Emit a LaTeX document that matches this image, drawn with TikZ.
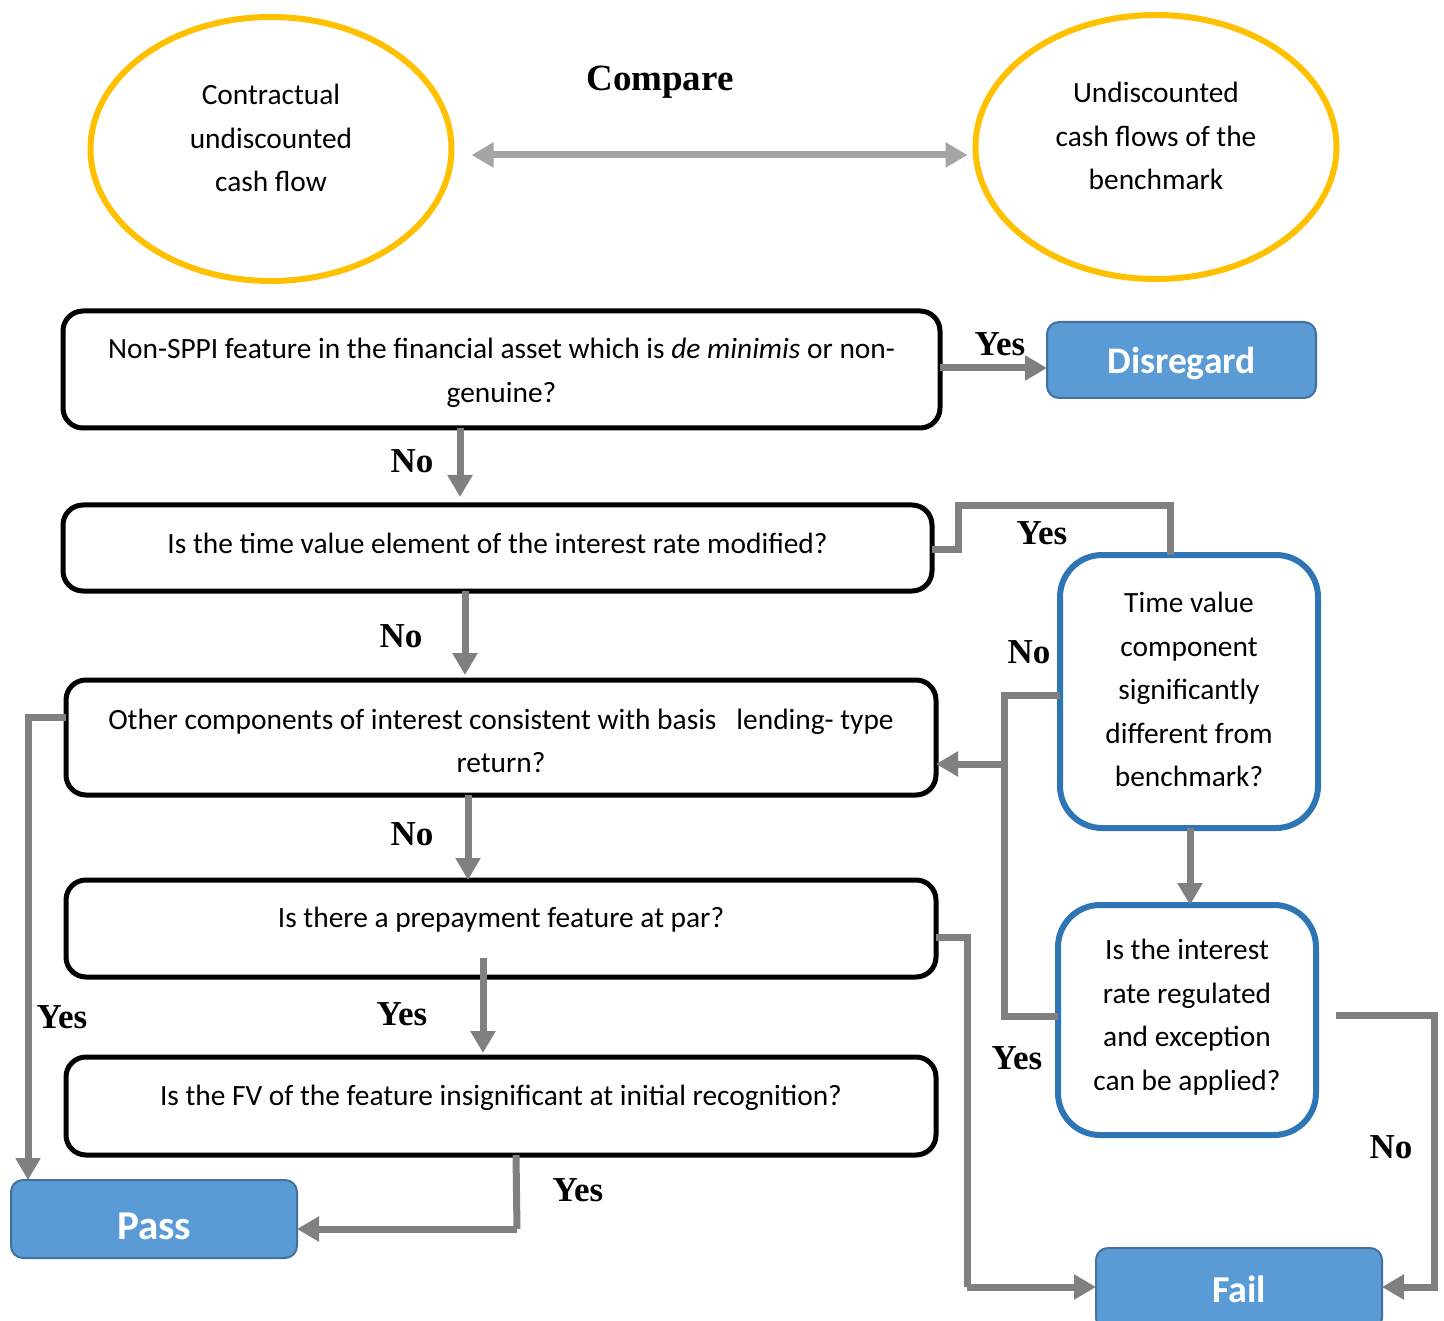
\documentclass[tikz,border=0pt]{standalone}
\usepackage{fontspec}
\setmainfont{Carlito}
\newfontfamily\lblfont{Liberation Serif}
\usetikzlibrary{shapes.geometric,arrows.meta}
\definecolor{gold}{HTML}{FFC000}
\definecolor{tvblue}{HTML}{2E75B6}
\definecolor{resfill}{HTML}{5B9BD5}
\definecolor{resdraw}{HTML}{41719C}
\definecolor{conngray}{HTML}{808080}
\definecolor{cmpgray}{HTML}{A5A5A5}
\begin{document}
\begin{tikzpicture}[x=1pt,y=-1pt,
  every node/.style={inner sep=0pt,outer sep=0pt},
  body/.style={font=\fontsize{29.4}{43.5}\selectfont,align=center},
  oval/.style={ellipse,draw=gold,line width=6pt,minimum width=361pt,minimum height=264pt},
  qbox/.style={draw=black,line width=5pt,rounded corners=20pt},
  bluebox/.style={draw=tvblue,line width=6pt,rounded corners=42pt},
  result/.style={fill=resfill,draw=resdraw,line width=2pt,rounded corners=12pt},
  restext/.style={text=white,font=\bfseries\fontsize{#1}{40}\selectfont},
  conn/.style={draw=conngray,line width=7pt},
  arr/.style={conn,-{Triangle[length=22pt,width=24pt]}},
  lbl/.style={font=\lblfont\bfseries\fontsize{35}{40}\selectfont}]
\useasboundingbox (0,0) rectangle (1444,1321);

% top ellipses
\node[oval] (e1) at (271,149) {};
\node[body] (e1t) at (271,138) {Contractual\\undiscounted\\cash flow};
\node[oval] (e2) at (1156,147) {};
\node[body] (e2t) at (1156,136) {Undiscounted\\cash flows of the\\benchmark};
\node[font=\lblfont\bfseries\fontsize{37}{40}\selectfont] (cmp) at (660,82) {Compare};
\draw[draw=cmpgray,line width=7pt,{Triangle[length=22pt,width=24pt]}-{Triangle[length=22pt,width=24pt]}]
  ([xshift=20pt,yshift=-6pt]e1.east) -- ([xshift=-8pt]e2.west |- 0,155);

% question boxes
\node[qbox,minimum width=877pt,minimum height=117pt] (b1) at (501.5,369.5) {};
\node[body] (b1t) at (501.5,373) {Non-SPPI feature in the financial asset which is \textit{de minimis} or non-\\genuine?};
\node[qbox,minimum width=869pt,minimum height=86pt] (b2) at (497.5,548) {};
\node[body] (b2t) at (497.5,543) {Is the time value element of the interest rate modified?};
\node[qbox,minimum width=870pt,minimum height=115pt] (b3) at (501,737.5) {};
\node[body] (b3t) at (501,741) {Other components of interest consistent with basis\ \ \ lending- type\\return?};
\node[qbox,minimum width=870pt,minimum height=97pt] (b4) at (501,928.5) {};
\node[body] (b4t) at (501,920) {Is there a prepayment feature at par?};
\node[qbox,minimum width=870pt,minimum height=98pt] (b5) at (501,1106) {};
\node[body] (b5t) at (501,1098) {Is the FV of the feature insignificant at initial recognition?};

% blue decision boxes
\node[bluebox,minimum width=258pt,minimum height=273pt] (tv) at (1189,691.5) {};
\node[body] (tvt) at (1189,689.5) {Time value\\component\\significantly\\different from\\benchmark?};
\node[bluebox,minimum width=258pt,minimum height=230pt] (ir) at (1187,1020) {};
\node[body] (irt) at (1187,1017) {Is the interest\\rate regulated\\and exception\\can be applied?};

% results
\node[result,minimum width=269pt,minimum height=76pt] (dis) at (1181.5,360) {};
\node[restext=37.5] (dist) at (1181.5,364) {Disregard};
\node[result,minimum width=286pt,minimum height=78pt] (pass) at (154,1219) {};
\node[restext=41] (passt) at (154,1226) {Pass};
\node[result,minimum width=286pt,minimum height=82pt] (fail) at (1239,1289) {};
\node[restext=38] (failt) at (1239,1289) {Fail};

% connectors
\draw[arr] (b1.east |- 0,368) -- (dis.west |- 0,368);
\node[lbl] (y1) at (1000,344) {Yes};

\draw[arr] (460,0 |- b1.south) -- ([yshift=8pt]460,0 |- b2.north);
\node[lbl] (n1) at (412,461) {No};

\draw[conn] (b2.east |- 0,549) -- (958,549) -- (958,506) -- (1170,506) -- (1170,0 |- tv.north);
\node[lbl] (y2) at (1042,533) {Yes};

\draw[arr] (465,0 |- b2.south) -- ([yshift=5pt]465,0 |- b3.north);
\node[lbl] (n2) at (401,636) {No};

\draw[conn] (tv.west |- 0,695) -- (1004,695) -- (1004,1016) -- (ir.west |- 0,1016);
\draw[arr] (1004,764) -- (b3.east |- 0,764);
\node[lbl] (n3) at (1029,652) {No};
\node[lbl] (y3) at (1017,1058) {Yes};

\draw[arr] (1190,0 |- tv.south) -- (1190,0 |- ir.north);

\draw[conn] ([xshift=20pt]ir.east |- 0,1015) -- (1434,1015) -- (1434,1287) -- ++(-10,0);
\draw[arr] (1434,1287) -- (fail.east |- 0,1287);
\node[lbl] (n4) at (1391,1147) {No};

\draw[arr] (468,0 |- b3.south) -- (468,0 |- b4.north);
\node[lbl] (n5) at (412,834) {No};

\draw[conn] (b4.east |- 0,937) -- (967,937) -- (967,1287);
\draw[arr] (967,1287) -- (fail.west |- 0,1287);

\draw[arr] (483,958) -- ([yshift=4pt]483,0 |- b5.north);
\node[lbl] (y4) at (402,1014) {Yes};

\draw[conn] (516,0 |- b5.south) -- (517,1229);
\draw[arr] (517,1229) -- (pass.east |- 0,1229);
\node[lbl] (y5) at (578,1190) {Yes};

\draw[conn] (b3.west |- 0,717) -- (28,717) -- (28,1160);
\draw[arr] (28,1150) -- (28,0 |- pass.north);
\node[lbl] (y6) at (62,1017) {Yes};
\end{tikzpicture}
\end{document}
